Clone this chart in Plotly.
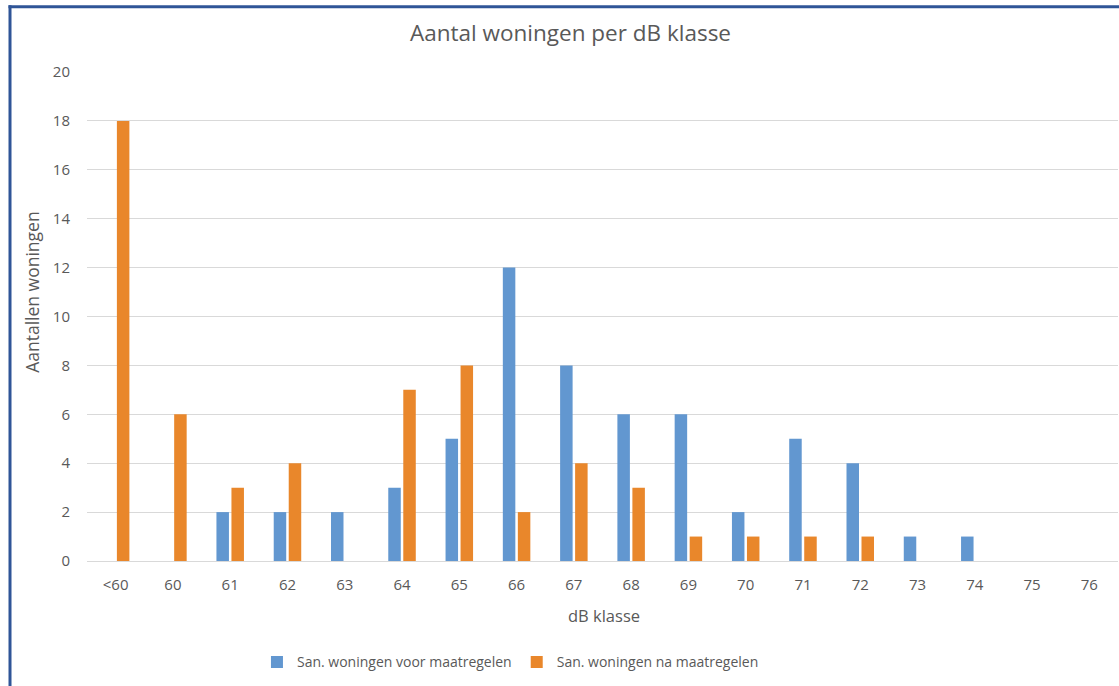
import plotly.graph_objects as go

categories = ["<60", "60", "61", "62", "63", "64", "65", "66", "67", "68",
              "69", "70", "71", "72", "73", "74", "75", "76"]
voor = [0, 0, 2, 2, 2, 3, 5, 12, 8, 6, 6, 2, 5, 4, 1, 1, 0, 0]
na = [18, 6, 3, 4, 0, 7, 8, 2, 4, 3, 1, 1, 1, 1, 0, 0, 0, 0]
yticks = [0, 2, 4, 6, 8, 10, 12, 14, 16, 18, 20]

BLUE = "#6297D0"
ORANGE = "#E9872B"
GREY = "#595959"
FONT = "Open Sans"

W, H = 1119, 686
L, R, T, B = 86.5, 1117.6, 71.7, 560.7
pw, ph = R - L, B - T


def px(x):
    return (x - L) / pw


def py(y):
    return (B - y) / ph


fig = go.Figure()
fig.add_trace(go.Bar(x=categories, y=voor, name="San. woningen voor maatregelen",
                     marker=dict(color=BLUE, line=dict(width=0))))
fig.add_trace(go.Bar(x=categories, y=na, name="San. woningen na maatregelen",
                     marker=dict(color=ORANGE, line=dict(width=0))))

fig.update_layout(
    width=W, height=H,
    margin=dict(l=L, r=W - R, t=T, b=H - B, pad=0),
    paper_bgcolor="white", plot_bgcolor="white",
    barmode="group", bargap=0.476, bargroupgap=0.167,
    font=dict(family=FONT, color=GREY),
    showlegend=True,
    legend=dict(orientation="h", x=px(510), xanchor="center", y=py(662), yanchor="middle",
                font=dict(size=14, color=GREY), itemclick=False, bgcolor="rgba(0,0,0,0)"),
    xaxis=dict(type="category", showgrid=False, showline=True, linecolor="#D9D9D9", linewidth=1,
               tickfont=dict(size=15, color=GREY), ticks="", ticklabelstandoff=10, zeroline=False),
    yaxis=dict(range=[0, 20], tickvals=yticks, showgrid=True, gridcolor="#D9D9D9", gridwidth=1,
               zeroline=False, showline=False, tickfont=dict(size=15, color=GREY), ticks="",
               ticklabelstandoff=16),
)

fig.add_annotation(text="Aantal woningen per dB klasse", x=px(570), y=py(32), xref="paper", yref="paper",
                   showarrow=False, font=dict(size=22.5, color=GREY, family=FONT), xanchor="center", yanchor="middle")
fig.add_annotation(text="dB klasse", x=px(604), y=py(615), xref="paper", yref="paper",
                   showarrow=False, font=dict(size=16.5, color=GREY, family=FONT), xanchor="center", yanchor="middle")
fig.add_annotation(text="Aantallen woningen", x=px(32), y=py(292), xref="paper", yref="paper", textangle=-90,
                   showarrow=False, font=dict(size=17.5, color=GREY, family=FONT), xanchor="center", yanchor="middle")

FRAME = "#2F5597"
fig.add_shape(type="line", xref="paper", yref="paper", x0=px(8), x1=px(1119), y0=py(6.5), y1=py(6.5),
              line=dict(color=FRAME, width=3))
fig.add_shape(type="line", xref="paper", yref="paper", x0=px(9.5), x1=px(9.5), y0=py(5), y1=py(686),
              line=dict(color=FRAME, width=3))

fig.write_html("out.html", config={"displayModeBar": False},
               post_script="document.body.style.margin='0px';")
